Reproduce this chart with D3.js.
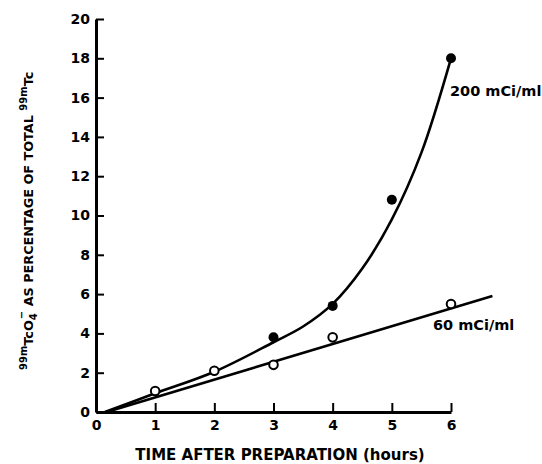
<!DOCTYPE html>
<html>
<head>
<meta charset="utf-8">
<script src="https://cdn.jsdelivr.net/npm/d3@7"></script>
<style>
  body { margin: 0; background: #fff; }
  svg { display: block; font-family: "DejaVu Sans", sans-serif; font-weight: bold; }
</style>
</head>
<body>
<div id="chart"></div>
<script>
// ---- data ----
const xTicks = [0, 1, 2, 3, 4, 5, 6];
const yTicks = [0, 2, 4, 6, 8, 10, 12, 14, 16, 18, 20];

// 200 mCi/ml: measured points (filled) and hand-drawn curve
const hi200X = [3, 4, 5, 6];
const hi200Y = [3.8, 5.4, 10.8, 18.0];
const curve200X = [0.15, 1, 2, 3, 3.5, 4, 4.5, 5, 5.5, 6];
const curve200Y = [0, 0.95, 2.05, 3.55, 4.35, 5.5, 7.3, 9.8, 13.2, 18.0];

// 60 mCi/ml: measured points (open) and fitted straight line
const lo60X = [1, 2, 3, 4, 6];
const lo60Y = [1.07, 2.1, 2.4, 3.8, 5.5];
const line60X = [0.18, 6.7];
const line60Y = [0, 5.9];

const width = 542, height = 464;
const margin = { left: 96, right: 91, top: 19, bottom: 52 };
const font = "DejaVu Sans, sans-serif";

const svg = d3.select("#chart").append("svg")
    .attr("width", width)
    .attr("height", height);

const x = d3.scaleLinear().domain([0, 6]).range([margin.left, width - margin.right]);
const y = d3.scaleLinear().domain([0, 20]).range([height - margin.bottom, margin.top]);

// y axis, ticks pointing inward
const yAxis = svg.append("g")
    .attr("transform", `translate(${margin.left},0)`)
    .call(d3.axisLeft(y).tickValues(yTicks).tickFormat(d3.format("d"))
        .tickSizeInner(-8).tickSizeOuter(0).tickPadding(6));

// x axis, ticks pointing up
const xAxis = svg.append("g")
    .attr("transform", `translate(0,${y(0)})`)
    .call(d3.axisBottom(x).tickValues(xTicks).tickFormat(d3.format("d"))
        .tickSizeInner(-9).tickSizeOuter(0).tickPadding(8));

[yAxis, xAxis].forEach(g => {
    g.select(".domain").attr("stroke", "#000").attr("stroke-width", 3);
    g.selectAll(".tick line").attr("stroke", "#000").attr("stroke-width", 2);
    g.selectAll(".tick text")
        .attr("fill", "#000")
        .attr("font-size", 14)
        .attr("font-weight", "bold")
        .attr("font-family", font);
});

// lines
const line = d3.line().x(d => x(d[0])).y(d => y(d[1]));

svg.append("path")
    .datum(line60X.map((v, i) => [v, line60Y[i]]))
    .attr("d", line)
    .attr("fill", "none")
    .attr("stroke", "#000")
    .attr("stroke-width", 2.6);

svg.append("path")
    .datum(curve200X.map((v, i) => [v, curve200Y[i]]))
    .attr("d", line.curve(d3.curveCatmullRom.alpha(0.5)))
    .attr("fill", "none")
    .attr("stroke", "#000")
    .attr("stroke-width", 2.6);

// points
svg.selectAll("circle.open")
    .data(lo60X.map((v, i) => [v, lo60Y[i]]))
    .join("circle")
    .attr("class", "open")
    .attr("cx", d => x(d[0]))
    .attr("cy", d => y(d[1]))
    .attr("r", 4.3)
    .attr("fill", "#fff")
    .attr("stroke", "#000")
    .attr("stroke-width", 2);

svg.selectAll("circle.filled")
    .data(hi200X.map((v, i) => [v, hi200Y[i]]))
    .join("circle")
    .attr("class", "filled")
    .attr("cx", d => x(d[0]))
    .attr("cy", d => y(d[1]))
    .attr("r", 5)
    .attr("fill", "#000");

// series labels
svg.append("text")
    .attr("x", 450).attr("y", 96)
    .attr("font-size", 14.5)
    .text("200 mCi/ml");

svg.append("text")
    .attr("x", 433).attr("y", 330)
    .attr("font-size", 14.5)
    .text("60 mCi/ml");

// axis titles
svg.append("text")
    .attr("x", 280).attr("y", 460)
    .attr("text-anchor", "middle")
    .attr("font-size", 15)
    .text("TIME AFTER PREPARATION (hours)");

const yTitle = svg.append("text")
    .attr("transform", "translate(33,370) rotate(-90)")
    .attr("font-size", 12.8);
yTitle.append("tspan").attr("font-size", 10).attr("dy", -6).text("99m");
yTitle.append("tspan").attr("dy", 6).text("TcO");
yTitle.append("tspan").attr("font-size", 10).attr("dy", 4).text("4");
yTitle.append("tspan").attr("font-size", 10).attr("dx", -6).attr("dy", -12).text("\u2212");
yTitle.append("tspan").attr("dy", 8).text("  AS PERCENTAGE OF TOTAL ");
yTitle.append("tspan").attr("font-size", 10).attr("dy", -6).text("99m");
yTitle.append("tspan").attr("dy", 6).text("Tc");
</script>
</body>
</html>
